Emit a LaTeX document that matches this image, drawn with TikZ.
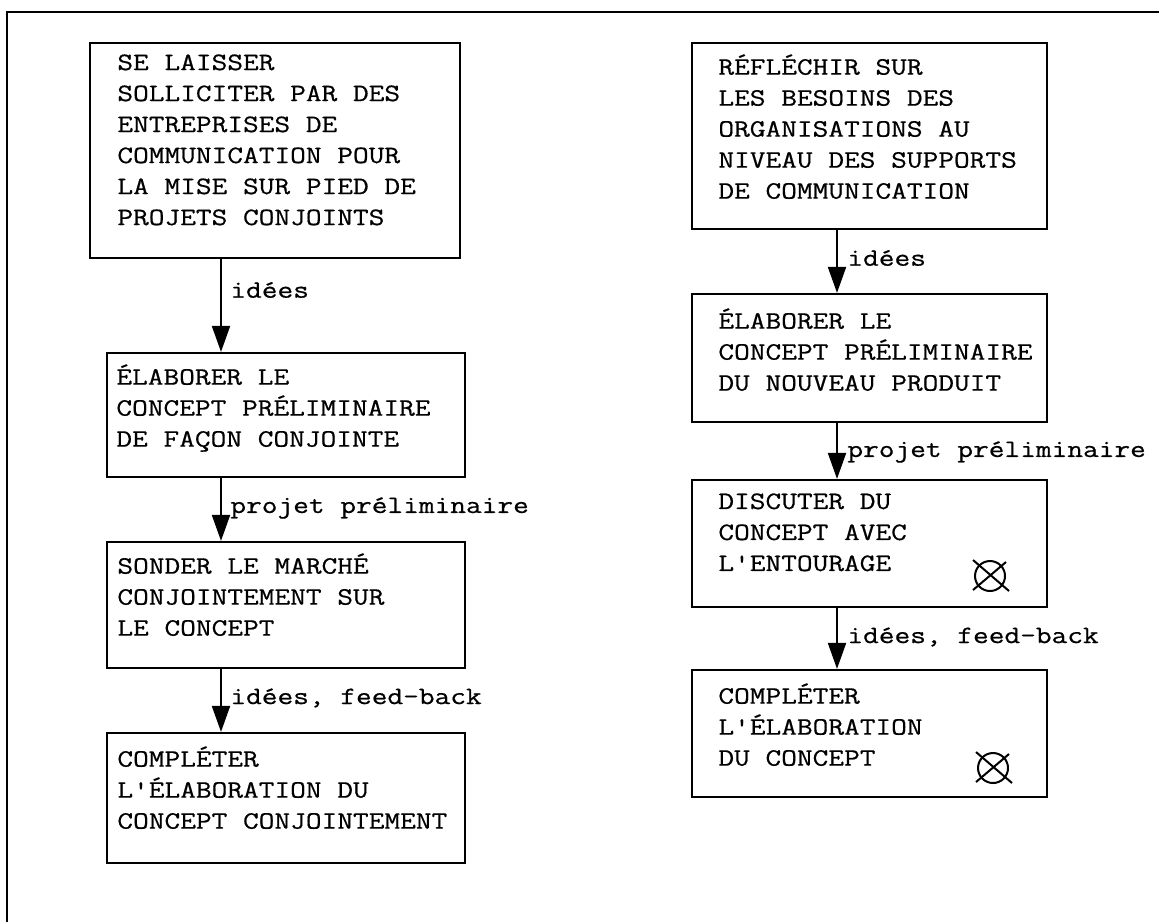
\documentclass[tikz,border=0pt]{standalone}
\usepackage{fontspec}
\newfontfamily\chartface[FakeStretch=1.22,FakeBold=0.6]{Latin Modern Mono}
\usetikzlibrary{arrows.meta,calc}

% typewriter face used for every text of the chart
\newcommand\chartfont{\chartface\fontsize{12.5}{15.5}\selectfont}

% \flowbox{name}{left}{top}{right}{bottom}: an empty framed step
\newcommand\flowbox[5]{%
  \node[stepbox, minimum width={(#4-#2)*0.5pt}, minimum height={(#5-#3)*0.5pt}]
    (#1) at ({(#2+#4)/2},{(#3+#5)/2}) {};}

% \crossmark{name}{x}{y}: circle crossed by an X
\newcommand\crossmark[3]{%
  \node[crossring] (#1) at (#2,#3) {};
  \draw[line width=1pt] ($(#1.center)+(-17,-16)$) -- ($(#1.center)+(19,15)$);
  \draw[line width=1pt] ($(#1.center)+(16,-14)$) -- ($(#1.center)+(-17,14)$);}

\tikzset{
  stepbox/.style={draw, rectangle, line width=1.1pt, inner sep=0pt},
  boxtext/.style={font=\chartfont, align=left, inner sep=0pt, anchor=north west,
    execute at begin node={\rule{0pt}{12pt}}},
  flow/.style={line width=1pt, -{Triangle[length=13pt,width=9pt]}},
  flowlabel/.style={font=\chartfont, anchor=west, inner sep=0pt},
  crossring/.style={draw, circle, line width=1pt, inner sep=0pt, minimum size=15pt},
}

\begin{document}
\begin{tikzpicture}[x=0.5pt, y=-0.5pt]
  \useasboundingbox (0,0) rectangle (1159,922);
  \fill[white] (0,0) rectangle (1159,922);

  % page frame (left and top rules)
  \draw[line width=1pt] (7,922) -- (7,12) -- (1159,12);

  % ---------------- left column: joint development ----------------
  \flowbox{l1}{90}{43}{460}{258}
  \flowbox{l2}{107}{353}{465}{477}
  \flowbox{l3}{107}{542}{465}{668}
  \flowbox{l4}{107}{733}{465}{863}

  \node[boxtext] (l1t) at (117,54) {SE LAISSER\\SOLLICITER PAR DES\\ENTREPRISES DE\\COMMUNICATION POUR\\LA MISE SUR PIED DE\\PROJETS CONJOINTS};
  \node[boxtext] (l2t) at (116,364) {ÉLABORER LE\\CONCEPT PRÉLIMINAIRE\\DE FAÇON CONJOINTE};
  \node[boxtext] (l3t) at (117,553) {SONDER LE MARCHÉ\\CONJOINTEMENT SUR\\LE CONCEPT};
  \node[boxtext] (l4t) at (117,746) {COMPLÉTER\\L'ÉLABORATION DU\\CONCEPT CONJOINTEMENT};

  \coordinate (lax) at (221,0);
  \draw[flow] (l1.south -| lax) -- (l2.north -| lax);
  \draw[flow] (l2.south -| lax) -- (l3.north -| lax);
  \draw[flow] (l3.south -| lax) -- (l4.north -| lax);

  \node[flowlabel] (l12) at (230,290) {idées};
  \node[flowlabel] (l23) at (230,508) {projet préliminaire};
  \node[flowlabel] (l34) at (230,698) {idées, feed-back};

  % ---------------- right column: in-house development ----------------
  \flowbox{r1}{692}{43}{1047}{229}
  \flowbox{r2}{692}{294}{1047}{422}
  \flowbox{r3}{692}{480}{1047}{607}
  \flowbox{r4}{692}{670}{1047}{797}

  \node[boxtext] (r1t) at (718,54) {RÉFLÉCHIR SUR\\LES BESOINS DES\\ORGANISATIONS AU\\NIVEAU DES SUPPORTS\\DE COMMUNICATION};
  \node[boxtext] (r2t) at (718,308) {ÉLABORER LE\\CONCEPT PRÉLIMINAIRE\\DU NOUVEAU PRODUIT};
  \node[boxtext] (r3t) at (718,493) {DISCUTER DU\\CONCEPT AVEC\\L'ENTOURAGE};
  \node[boxtext] (r4t) at (718,683) {COMPLÉTER\\L'ÉLABORATION\\DU CONCEPT};

  \crossmark{r3x}{990}{576}
  \crossmark{r4x}{993}{768}

  \coordinate (rax) at (837,0);
  \draw[flow] (r1.south -| rax) -- (r2.north -| rax);
  \draw[flow] (r2.south -| rax) -- (r3.north -| rax);
  \draw[flow] (r3.south -| rax) -- (r4.north -| rax);

  \node[flowlabel] (r12) at (847,258) {idées};
  \node[flowlabel] (r23) at (847,452) {projet préliminaire};
  \node[flowlabel] (r34) at (847,637) {idées, feed-back};
\end{tikzpicture}
\end{document}
